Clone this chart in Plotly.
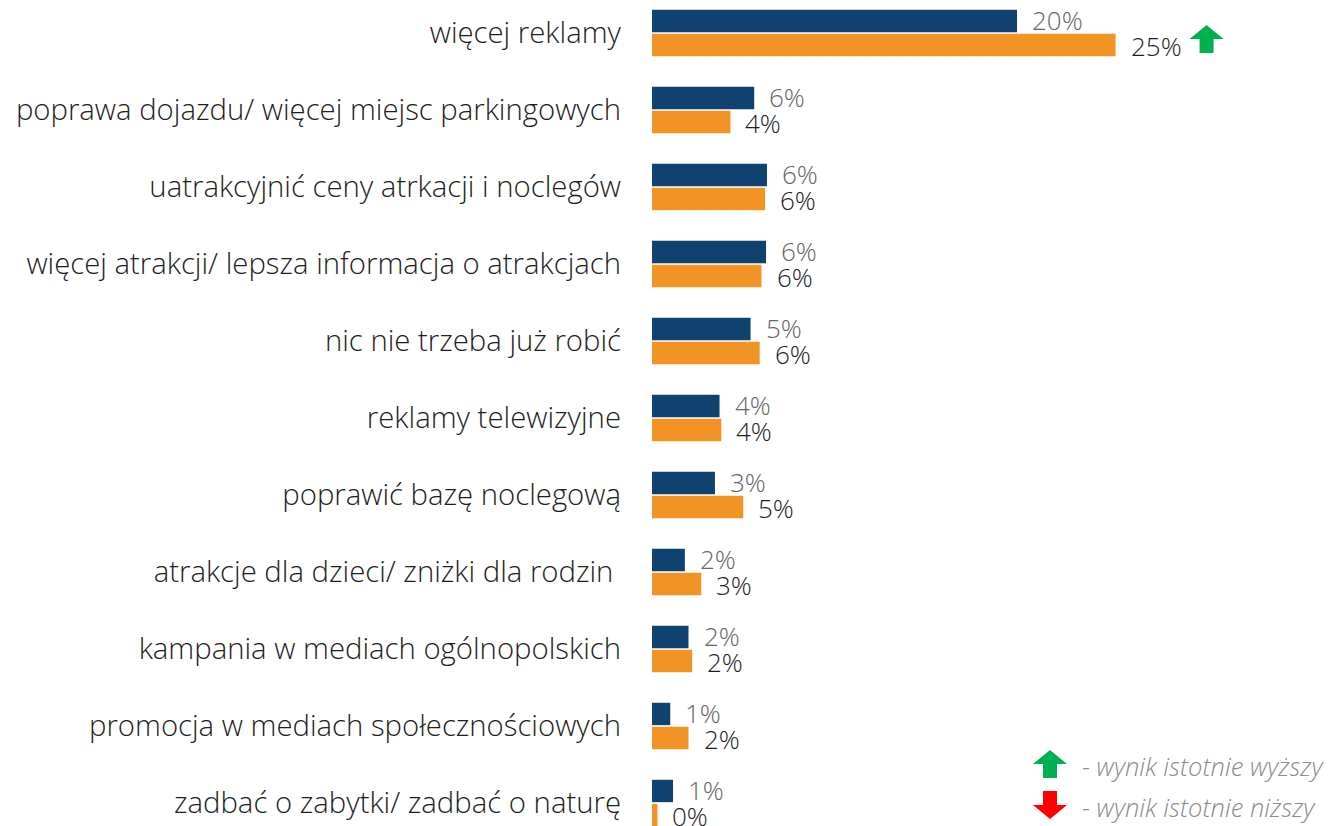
import plotly.graph_objects as go

categories = [
    "więcej reklamy",
    "poprawa dojazdu/ więcej miejsc parkingowych",
    "uatrakcyjnić ceny atrkacji i noclegów",
    "więcej atrakcji/ lepsza informacja o atrakcjach",
    "nic nie trzeba już robić",
    "reklamy telewizyjne",
    "poprawić bazę noclegową",
    "atrakcje dla dzieci/ zniżki dla rodzin ",
    "kampania w mediach ogólnopolskich",
    "promocja w mediach społecznościowych",
    "zadbać o zabytki/ zadbać o naturę",
]
series_a = [20.0, 5.6, 6.3, 6.25, 5.4, 3.7, 3.45, 1.8, 2.0, 1.0, 1.15]
series_b = [25.4, 4.3, 6.2, 6.0, 5.9, 3.8, 5.0, 2.7, 2.2, 2.0, 0.3]
labels_a = ["20%", "6%", "6%", "6%", "5%", "4%", "3%", "2%", "2%", "1%", "1%"]
labels_b = ["25%", "4%", "6%", "6%", "6%", "4%", "5%", "3%", "2%", "2%", "0%"]
significance_b = ["up", "", "", "", "", "", "", "", "", "", ""]
legend_texts = ["- wynik istotnie wyższy", "- wynik istotnie niższy"]

BLUE = "#0F426F"
ORANGE = "#F29425"
GREEN = "#00B050"
RED = "#FF0000"
FONT = "Open Sans"

# page offset (default body margin)
OFF = 8
W = 1335 - OFF
H = 826 - OFF
L = 652 - OFF

fig = go.Figure()
fig.add_trace(go.Bar(y=categories, x=series_a, orientation="h", marker_color=BLUE,
                     marker_line_width=0, name="A", hoverinfo="skip"))
fig.add_trace(go.Bar(y=categories, x=series_b, orientation="h", marker_color=ORANGE,
                     marker_line_width=0, name="B", hoverinfo="skip"))

annotations = []
for c, v, t in zip(categories, series_a, labels_a):
    annotations.append(dict(x=v, y=c, xref="x", yref="y", text=t, showarrow=False,
                            xanchor="left", yanchor="middle", xshift=13, yshift=13,
                            font=dict(family=FONT, size=26, color="#666666", weight=300)))
for c, v, t in zip(categories, series_b, labels_b):
    annotations.append(dict(x=v, y=c, xref="x", yref="y", text=t, showarrow=False,
                            xanchor="left", yanchor="middle", xshift=13, yshift=-13,
                            font=dict(family=FONT, size=26, color="#1E1E1E", weight=300)))


def arrow(direction, dx=0, dy=0):
    s = 1 if direction == "up" else -1
    pts = [(-7, -14 * s), (7, -14 * s), (7, 0), (17, 0), (0, 14 * s), (-17, 0), (-7, 0)]
    return "M " + " L ".join(f"{x + dx},{y + dy}" for x, y in pts) + " Z"


shapes = []
for i, (v, s) in enumerate(zip(series_b, significance_b)):
    if s:
        shapes.append(dict(type="path", xref="x", yref="y", xsizemode="pixel", ysizemode="pixel",
                           xanchor=v, yanchor=i, path=arrow(s, dx=91, dy=-6),
                           fillcolor=GREEN if s == "up" else RED, line_width=0))

# legend (bottom right), positions given in page pixels
legend_items = [("up", GREEN, 764, legend_texts[0]), ("down", RED, 805, legend_texts[1])]
for d, col, py, txt in legend_items:
    shapes.append(dict(type="path", xref="paper", yref="paper", xsizemode="pixel", ysizemode="pixel",
                       xanchor=(1050 - OFF - L) / (W - L), yanchor=1 - (py - OFF) / H, path=arrow(d),
                       fillcolor=col, line_width=0))
    annotations.append(dict(x=(1080 - OFF - L) / (W - L), y=1 - (py + 2 - OFF) / H, xref="paper",
                            yref="paper", text=f"<i>{txt}</i>", showarrow=False, xanchor="left",
                            yanchor="middle",
                            font=dict(family=FONT, size=25.5, color="#8C8C8C", weight=300)))

px_per_unit = 18.25
top_center = 33 - OFF
row_h = 77

fig.update_layout(
    width=W, height=H,
    margin=dict(l=L, r=0, t=0, b=0),
    paper_bgcolor="white", plot_bgcolor="white",
    barmode="group", bargap=0.375, bargroupgap=0.07,
    showlegend=False,
    annotations=annotations, shapes=shapes,
    font=dict(family=FONT, weight=300),
)
fig.update_xaxes(range=[0, (W - L) / px_per_unit], visible=False, fixedrange=True)
fig.update_yaxes(categoryorder="array", categoryarray=categories,
                 range=[(H - top_center) / row_h, -top_center / row_h],
                 showgrid=False, zeroline=False, showline=False, ticks="",
                 ticklabelstandoff=30,
                 tickfont=dict(family=FONT, size=29.3, color="#1E1E1E", weight=300))

fig.write_html("out.html")
